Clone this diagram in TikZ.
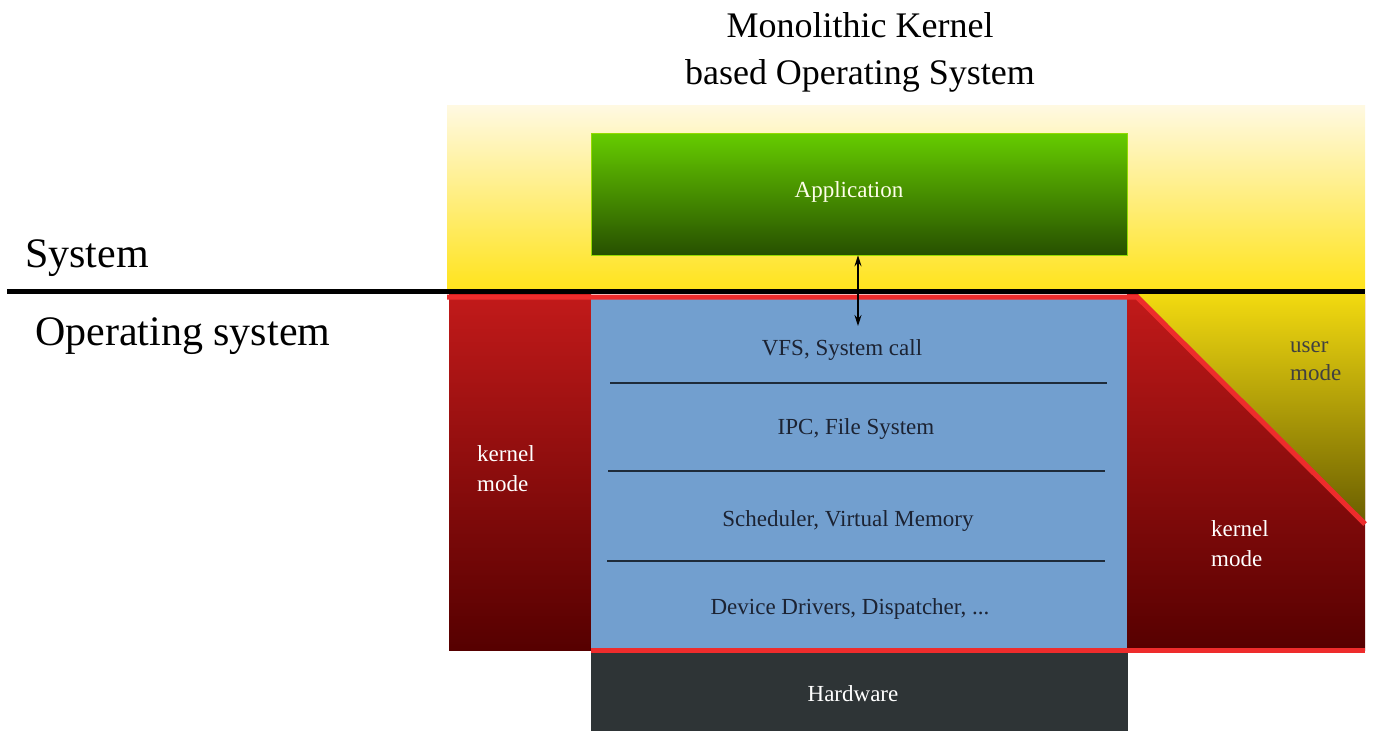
\documentclass[tikz,border=0pt]{standalone}
\usepackage{fontspec}
\setmainfont{Liberation Serif}
\usetikzlibrary{arrows.meta}
\definecolor{yelTop}{HTML}{FFF9E2}
\definecolor{yelBot}{HTML}{FFE31A}
\definecolor{grnTop}{HTML}{66CC00}
\definecolor{grnBot}{HTML}{275000}
\definecolor{redTop}{HTML}{C21A1A}
\definecolor{redBot}{HTML}{560000}
\definecolor{triTop}{HTML}{F2DA10}
\definecolor{triBot}{HTML}{6A5E00}
\definecolor{kblue}{HTML}{729FCF}
\definecolor{redLine}{HTML}{EE2C2C}
\definecolor{hwGray}{HTML}{2E3436}
\definecolor{layText}{HTML}{1C2333}
\definecolor{sepLine}{HTML}{1E2B3A}
\tikzset{
  bigtext/.style={font=\fontsize{42}{48}\selectfont, text=black, inner sep=0pt},
  titletext/.style={font=\fontsize{36}{47}\selectfont, text=black, inner sep=0pt, align=center},
  laytext/.style={font=\fontsize{23}{27}\selectfont, text=layText, inner sep=0pt},
  whitetext/.style={font=\fontsize{23}{30}\selectfont, text=white, inner sep=0pt, align=left},
  sepline/.style={draw=sepLine, line width=2pt},
  redborder/.style={draw=redLine, line width=5pt}
}
\begin{document}
\begin{tikzpicture}[x=1pt,y=-1pt]
\useasboundingbox (0,0) rectangle (1373,731);
% yellow user area
\shade[top color=yelTop, bottom color=yelBot] (447,105) rectangle (1365,292);
% left kernel region
\shade[top color=redTop, bottom color=redBot] (449,294) rectangle (591,650);
% right kernel region
\shade[top color=redTop, bottom color=redBot] (1127,294) rectangle (1365,650);
% user-mode triangle
\shade[top color=triTop, bottom color=triBot] (1138,294) -- (1365,294) -- (1365,523) -- cycle;
% kernel (blue) box
\node[fill=kblue, draw=none, minimum width=536pt, minimum height=352pt, inner sep=0pt] (kern) at (859,472) {};
% hardware
\node[fill=hwGray, minimum width=537pt, minimum height=79pt, inner sep=0pt] (hw) at (859.5,691.5) {};
\node[font=\fontsize{23}{27}\selectfont, text=white, inner sep=0pt] (hwtxt) at (853,694) {Hardware};
% application
\node[top color=grnTop, bottom color=grnBot, draw=grnTop!70!yellow, line width=0.5pt,
      minimum width=536pt, minimum height=122pt, inner sep=0pt] (app) at (859,194) {};
\node[font=\fontsize{23}{27}\selectfont, text=white!92!yellow, inner sep=0pt] (apptxt) at (849,192) {Application};
% red borders
\draw[redborder] (447,297) -- (1137,297) -- (1365,524);
\draw[redborder] (591,650.5) -- (1365,650.5);
% black divider
\draw[line width=4.5pt, black] (7,291.5) -- (1365,291.5);
% layer separators
\draw[sepline] (610,383) -- (1107,383);
\draw[sepline] (608,471) -- (1105,471);
\draw[sepline] (607,561) -- (1105,561);
% layer texts
\node[laytext] (vfs) at (842,350) {VFS, System call};
\node[laytext] (ipc) at (856,429) {IPC, File System};
\node[laytext] (sch) at (848,521) {Scheduler, Virtual Memory};
\node[laytext] (dev) at (850,609) {Device Drivers, Dispatcher, ...};
% arrow
\coordinate (ae) at (858,326);
\draw[{Stealth[length=11pt,width=7pt]}-{Stealth[length=11pt,width=7pt]}, line width=1.3pt] (app.south -| ae) -- (ae);
% mode labels
\node[whitetext, anchor=north west] (kml) at (477,445) {kernel\\mode};
\node[whitetext, anchor=north west] (kmr) at (1211,520) {kernel\\mode};
\node[font=\fontsize{23}{28}\selectfont, text=black!75, inner sep=0pt, align=left, anchor=north west] (um) at (1290,341) {user\\mode};
% big labels
\node[bigtext, anchor=base west] (sys) at (25,267) {System};
\node[bigtext, anchor=base west] (os) at (35,345) {Operating system};
\node[titletext] (title) at (860,52) {Monolithic Kernel\\based Operating System};
\end{tikzpicture}
\end{document}
